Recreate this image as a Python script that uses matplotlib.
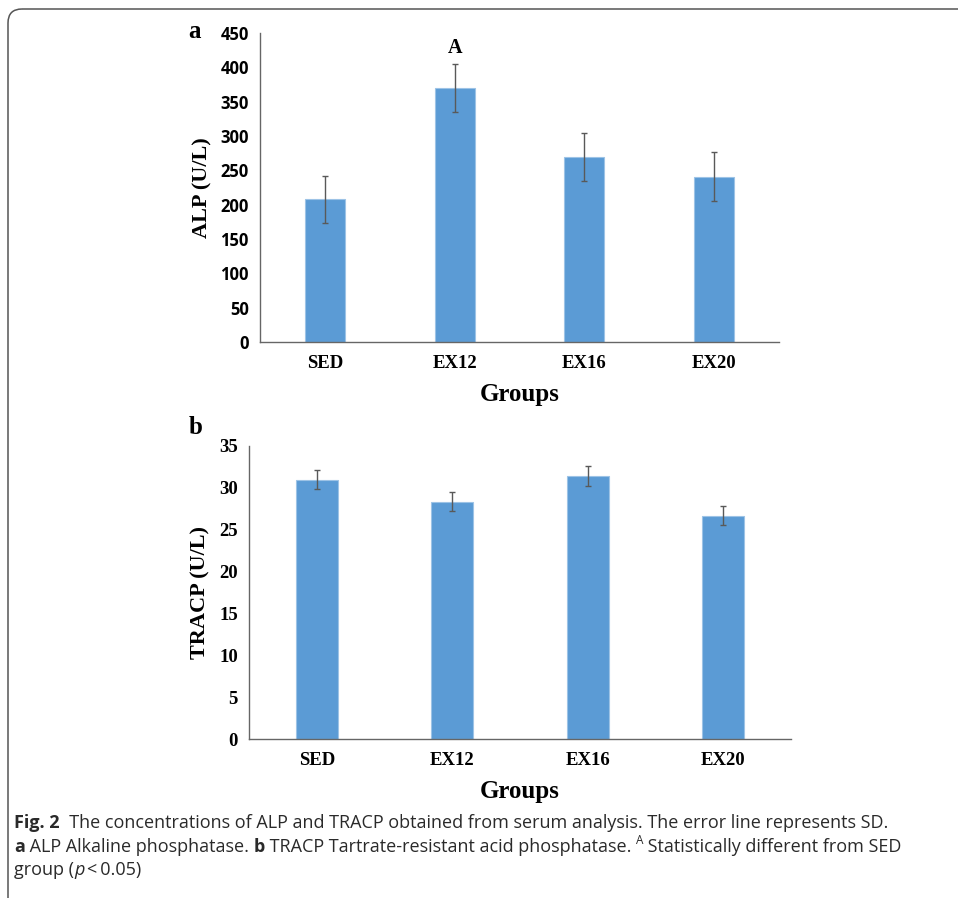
import matplotlib
matplotlib.use("Agg")
import matplotlib.pyplot as plt
from matplotlib import font_manager
from matplotlib.patches import FancyBboxPatch

# data
groups = ["SED", "EX12", "EX16", "EX20"]
alp_mean = [208, 370, 270, 241]
alp_sd = [34, 35, 35, 35]
tracp_mean = [31.0, 28.35, 31.4, 26.7]
tracp_sd = [1.1, 1.15, 1.2, 1.1]
alp_ticks = [0, 50, 100, 150, 200, 250, 300, 350, 400, 450]
tracp_ticks = [0, 5, 10, 15, 20, 25, 30, 35]

BAR = "#5b9bd5"
EDGE = "#9dc3e6"
ERR = "#595959"
SERIF = "Liberation Serif"

names = {f.name for f in font_manager.fontManager.ttflist}
CAP_FONT = "Liberation Sans Narrow" if "Liberation Sans Narrow" in names else "Open Sans"

W, H = 958, 898
fig = plt.figure(figsize=(W / 100, H / 100), dpi=100)

# background axes in pixel coords: frame + caption
bg = fig.add_axes([0, 0, 1, 1])
bg.set_xlim(0, W)
bg.set_ylim(H, 0)
bg.axis("off")
bg.add_patch(FancyBboxPatch((8, 9), 1100, 1000, boxstyle="round,pad=0,rounding_size=14",
                            fc="none", ec="#555555", lw=1.1))


def bar_panel(rect, means, sds, ticks, ymax, tick_font, ylabel):
    ax = fig.add_axes(rect)
    x = range(len(groups))
    ax.bar(x, means, width=0.31, color=BAR, edgecolor=EDGE, linewidth=0.8, zorder=2)
    ax.errorbar(x, means, yerr=sds, fmt="none", ecolor=ERR, elinewidth=1.0,
                capsize=2.3, capthick=1.0, zorder=3)
    ax.set_xlim(-0.5, len(groups) - 0.5)
    ax.set_ylim(0, ymax)
    ax.set_xticks(list(x))
    ax.set_xticklabels(groups, fontfamily=SERIF, fontweight="bold", fontsize=13.5)
    ax.set_yticks(ticks)
    ax.set_yticklabels([str(t) for t in ticks], **tick_font)
    ax.tick_params(length=0, pad=8)
    ax.tick_params(axis="x", pad=9)
    for s in ["top", "right"]:
        ax.spines[s].set_visible(False)
    for s in ["left", "bottom"]:
        ax.spines[s].set_color("#666666")
        ax.spines[s].set_linewidth(1.0)
    ax.set_ylabel(ylabel, fontfamily=SERIF, fontweight="bold", fontsize=16, labelpad=6)
    ax.set_xlabel("Groups", fontfamily=SERIF, fontweight="bold", fontsize=18, labelpad=8)
    return ax


ax1 = bar_panel([260 / W, 1 - 342 / H, 519 / W, 309 / H], alp_mean, alp_sd, alp_ticks, 450,
                dict(fontfamily="Open Sans", fontweight="bold", fontsize=12), "ALP (U/L)")
ax1.annotate("A", (1, alp_mean[1] + alp_sd[1]), xytext=(0, 4), textcoords="offset points",
             ha="center", va="bottom", fontfamily=SERIF, fontweight="bold", fontsize=14.5)

ax2 = bar_panel([249 / W, 1 - 739.3 / H, 542 / W, 293.3 / H], tracp_mean, tracp_sd, tracp_ticks, 35,
                dict(fontfamily=SERIF, fontweight="bold", fontsize=13.5), "TRACP (U/L)")

bg.text(195, 32, "a", fontfamily=SERIF, fontweight="bold", fontsize=18, ha="center", va="center")
bg.text(196, 428, "b", fontfamily=SERIF, fontweight="bold", fontsize=18, ha="center", va="center")

# caption, drawn piece by piece
fig.canvas.draw()
renderer = fig.canvas.get_renderer()
CAP = 13.0


def caption_line(x, y, pieces):
    for txt, style in pieces:
        kw = dict(fontfamily=CAP_FONT, fontsize=CAP, color="#2a2a2a", va="baseline", ha="left")
        yy = y
        if style == "b":
            kw["fontweight"] = "bold"
        elif style == "i":
            kw["fontstyle"] = "italic"
        elif style == "sup":
            kw["fontsize"] = CAP * 0.65
            yy = y - 8
        t = bg.text(x, yy, txt, **kw)
        bb = t.get_window_extent(renderer)
        x += bb.width * W / fig.bbox.width


caption_line(14, 828, [("Fig. 2", "b"),
                       ("  The concentrations of ALP and TRACP obtained from serum analysis. "
                        "The error line represents SD.", "n")])
caption_line(14, 852, [("a", "b"), (" ALP Alkaline phosphatase. ", "n"), ("b", "b"),
                       (" TRACP Tartrate-resistant acid phosphatase. ", "n"), ("A", "sup"),
                       (" Statistically different from SED", "n")])
caption_line(14, 875, [("group (", "n"), ("p", "i"), ("\u2009<\u20090.05)", "n")])

fig.savefig("out.png", dpi=100)
